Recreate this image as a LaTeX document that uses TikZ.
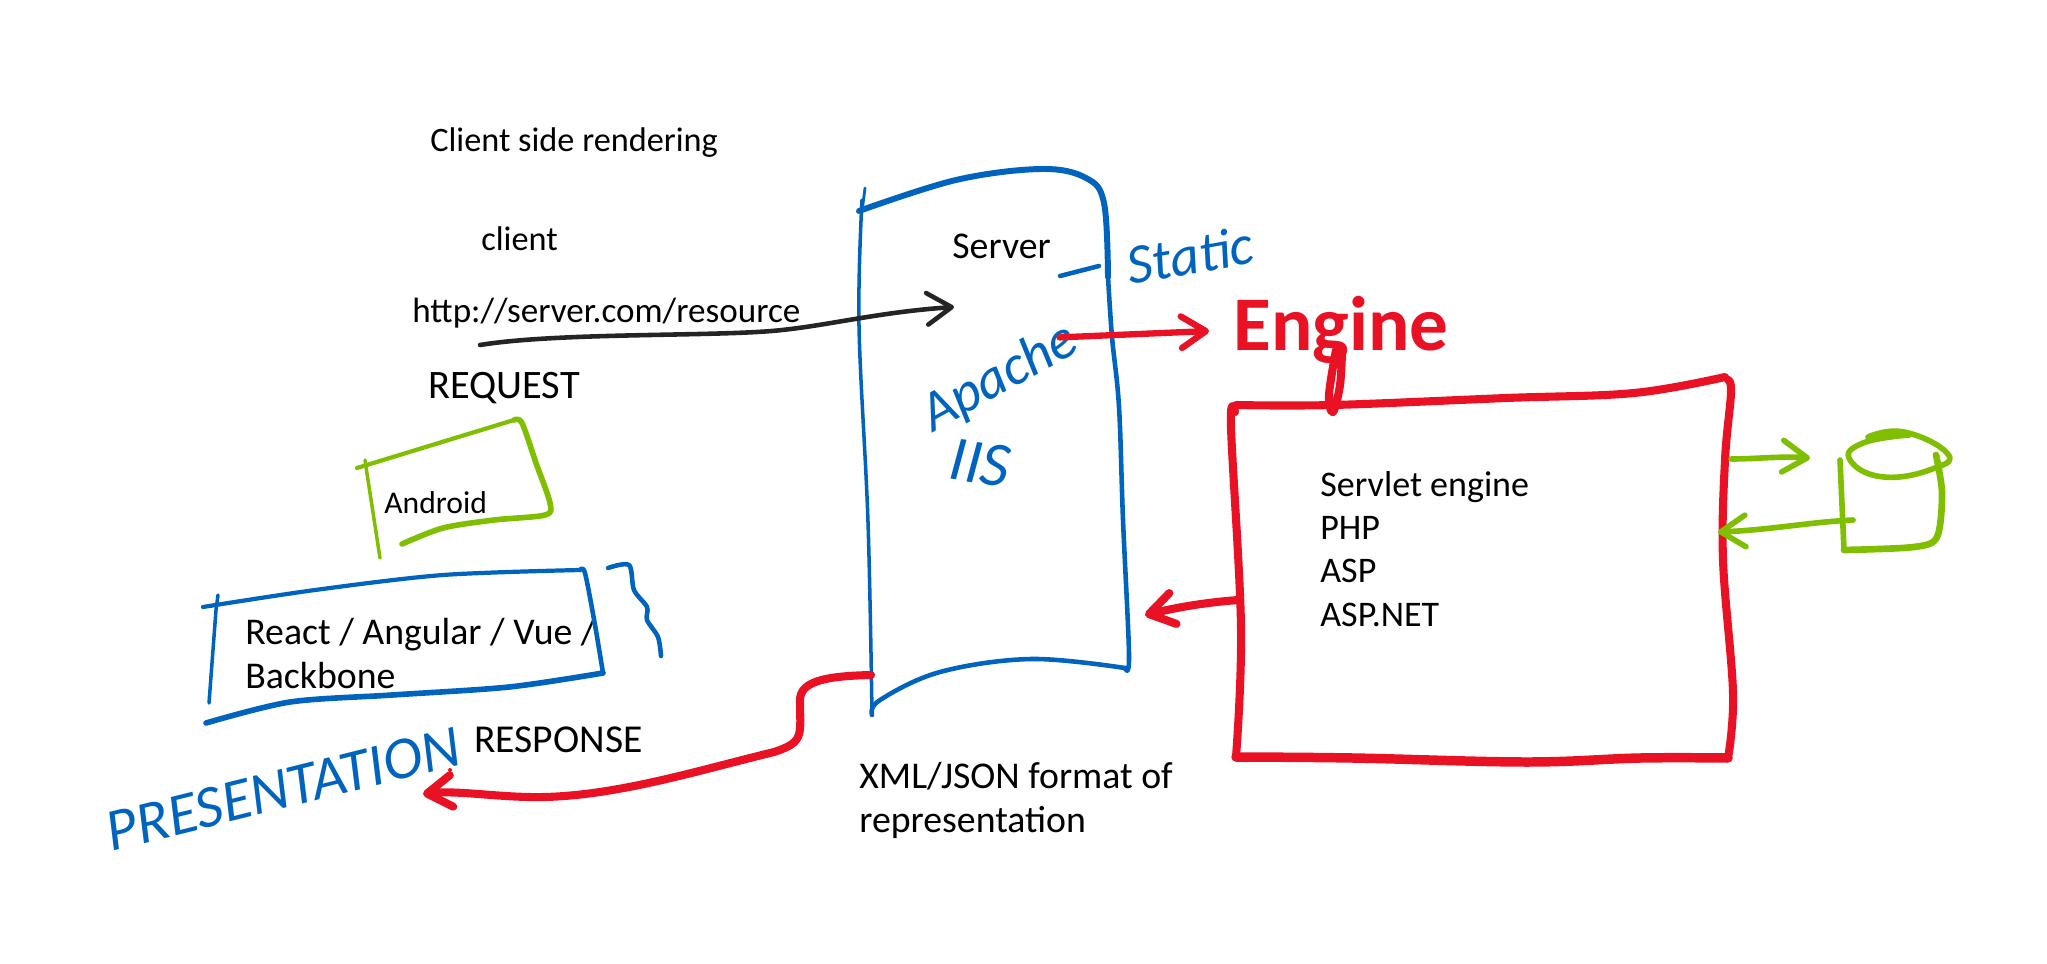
\documentclass[tikz,border=0pt]{standalone}
\usepackage{fontspec}
\setmainfont{Carlito}
\usepackage{xcolor}
\usetikzlibrary{arrows.meta}

\definecolor{inkblue}{RGB}{0,100,190}
\definecolor{inkred}{RGB}{232,18,36}
\definecolor{inkgreen}{RGB}{127,190,0}
\definecolor{inkblack}{RGB}{36,36,36}

\begin{document}
\begin{tikzpicture}[
    x=0.02cm, y=-0.02cm,
    line cap=round, line join=round,
    >={Straight Barb[round, length=14pt, width=18pt]},
    txt/.style = {font=\fontsize{19.5}{24.5}\selectfont, inner sep=0pt, anchor=base west, align=left, text=black},
    wide/.style = {font=\fontsize{21.5}{24.5}\selectfont},
    blueword/.style = {text=inkblue, inner sep=0pt},
    blue/.style = {draw=inkblue, line width=2.6pt},
    red/.style = {draw=inkred, line width=4.6pt},
    green/.style = {draw=inkgreen, line width=3.2pt}
]
\useasboundingbox (0,0) rectangle (2047,963);

% labels
\node[txt] (title) at (430,151) {Client side rendering};
\node[txt] (client) at (481,250) {client};
\node[txt, font=\fontsize{20}{24}\selectfont] (url) at (412,322) {http://server.com/resource};
\node[txt, font=\fontsize{23}{24}\selectfont] (request) at (428,398) {REQUEST};
\node[txt, font=\fontsize{18}{24}\selectfont] (android) at (384,513) {Android};
\node[txt, wide] (react) at (245,688) {React / Angular / Vue /\\Backbone};
\node[txt, font=\fontsize{22.5}{24}\selectfont] (response) at (474,752) {RESPONSE};
\node[txt, wide] (server) at (952,258) {Server};
\node[txt, font=\fontsize{20.5}{24.5}\selectfont] (servlet) at (1320,626) {Servlet engine\\PHP\\ASP\\ASP.NET};
\node[txt, wide] (format) at (859,832) {XML/JSON format of\\representation};

% handwritten words
\node[blueword, rotate=29, font=\itshape\fontsize{32}{32}\selectfont] (apache) at (1000,378) {Apache};
\node[blueword, rotate=-8, font=\itshape\fontsize{36}{36}\selectfont] (iis) at (980,463) {IIS};
\node[blueword, rotate=10, font=\itshape\fontsize{32}{32}\selectfont] (static) at (1190,255) {Static};
\node[blueword, rotate=14, font=\itshape\fontsize{34}{34}\selectfont] (presentation) at (283,789) {PRESENTATION};
\node[text=inkred, inner sep=0pt, font=\bfseries\fontsize{44}{44}\selectfont] (engine) at (1341,330) {Engine};

% server
\draw[blue, line width=1.6pt] (865,188) -- (862,212);
\draw[blue, line width=3.4pt] plot[smooth, tension=0.6] coordinates {(859,211) (956,180) (1041,169) (1086,178) (1104,203) (1108,277)};
\draw[blue, line width=2pt] plot[smooth, tension=0.6] coordinates {(862,200) (859,326) (868,522) (872,715)};
\draw[blue] plot[smooth, tension=0.6] coordinates {(1108,277) (1112,337) (1119,407) (1123,520) (1129,655) (1125,668)};
\draw[blue] plot[smooth, tension=0.6] coordinates {(1125,668) (1031,659) (940,672) (880,700) (872,715)};

% servlet box
\draw[red] plot[smooth, tension=0.6] coordinates {(1236,405) (1333,405) (1506,398) (1634,393) (1725,377)};
\draw[red] plot[smooth, tension=0.6] coordinates {(1728,380) (1731,393) (1725,460) (1723,560) (1733,693) (1728,758)};
\draw[red, line width=5.4pt] plot[smooth, tension=0.6] coordinates {(1728,758) (1640,758) (1527,762) (1353,758) (1236,757)};
\draw[red] plot[smooth, tension=0.6] coordinates {(1236,757) (1241,627) (1231,427) (1235,412)};
\draw[red] plot[smooth, tension=0.6] coordinates {(1342,350) (1340,385) (1333,412) (1329,395) (1336,350)};

% android box
\draw[green, line width=2pt] (365,460) -- (368,480) -- (380,558);
\draw[green, line width=2.4pt] (357,468) -- (514,420);
\draw[green] plot[smooth, tension=0.5] coordinates {(514,420) (522,423) (536,463) (550,503) (545,515) (494,520) (443,528) (402,544)};

% react box
\draw[blue, line width=2pt] (218,595) -- (216,610) -- (209,703);
\draw[blue, line width=2.4pt] plot[smooth, tension=0.5] coordinates {(203,607) (315,590) (443,575) (580,570)};
\draw[blue] plot[smooth, tension=0.5] coordinates {(580,570) (585,573) (595,625) (603,673)};
\draw[blue, line width=3.2pt] plot[smooth, tension=0.5] coordinates {(603,673) (509,687) (392,695) (290,702) (206,723)};
\draw[blue] plot[smooth, tension=0.5] coordinates {(608,568) (629,565) (634,590) (647,607) (647,620) (658,637) (661,656)};

% database
\draw[green] plot[smooth, tension=0.8] coordinates {(1868,437) (1904,432) (1947,453) (1935,468) (1884,477) (1850,460) (1863,443) (1909,435)};
\draw[green] (1840,460) -- (1844,550);
\draw[green, line width=3.8pt] plot[smooth, tension=0.5] coordinates {(1844,550) (1914,547) (1937,537) (1942,493) (1936,455)};

% connectors
\coordinate (reqstart) at (480,345);
\coordinate (reqend) at (954,307);
\coordinate (srvbottom) at (871,675);
\coordinate (respend) at (423,794);
\coordinate (srvright) at (1145,615);
\coordinate (boxleft) at (1238,600);
\coordinate (boxright) at (1731,459);
\coordinate (dbleft) at (1810,458);
\coordinate (dbside) at (1853,520);
\coordinate (boxhit) at (1718,532);
\coordinate (dash) at (1060,276);

\draw[->, draw=inkblack, line width=2.6pt] (reqstart) .. controls (560,332) and (720,337) .. (782,330) .. controls (830,325) and (880,312) .. (reqend);
\draw[red, ->, line width=3.6pt, shorten >=0.48cm, shorten <=-0.3cm] (apache.east) -- (engine.west);
\draw[red, ->] (srvbottom) .. controls (830,676) and (800,680) .. (800,700) .. controls (800,735) and (805,742) .. (774,752) .. controls (700,770) and (620,795) .. (545,797) .. controls (500,798) and (460,790) .. (respend);
\draw[red, ->] (boxleft) .. controls (1200,603) and (1175,608) .. (srvright);
\draw[green, ->] (boxright) .. controls (1755,459) and (1780,456) .. (dbleft);
\draw[green, ->] (dbside) .. controls (1810,522) and (1770,530) .. (boxhit);
\draw[blue] (dash) -- (1099,266);

\fill[inkred] (450,770) circle (2);

\end{tikzpicture}
\end{document}
